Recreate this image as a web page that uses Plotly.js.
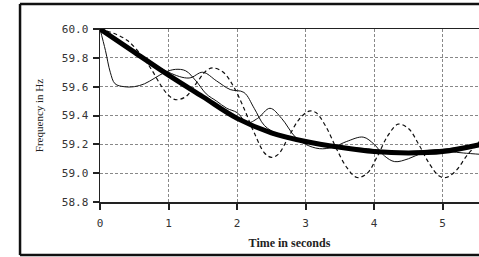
<!DOCTYPE html>
<html><head><meta charset="utf-8">
<script src="https://cdn.plot.ly/plotly-3.0.1.min.js"></script>
<style>html,body{margin:0;padding:0;background:#fff;}#chart{width:479px;height:257px;}</style>
</head><body><div id="chart"></div>
<script>
// Thick (average) frequency curve
const tThick = [0, 0.5, 1.0, 1.5, 2.0, 2.5, 3.0, 3.5, 4.0, 4.5, 5.0, 5.57];
const fThick = [60.0, 59.84, 59.68, 59.53, 59.38, 59.28, 59.22, 59.18, 59.15, 59.14, 59.15, 59.2];

// Thin solid curve A (fast initial drop)
const tA = [0, 0.08, 0.15, 0.22, 0.35, 0.5, 0.65, 0.8, 0.95, 1.1, 1.25, 1.4, 1.55, 1.7, 1.85, 2.0, 2.15, 2.3, 2.48, 2.65, 2.85, 3.0, 3.2, 3.4, 3.6, 3.84, 4.0, 4.15, 4.3, 4.5, 4.7, 4.9, 5.1, 5.3, 5.57];
const fA = [60.0, 59.85, 59.7, 59.62, 59.6, 59.6, 59.62, 59.66, 59.7, 59.72, 59.71, 59.64, 59.55, 59.5, 59.45, 59.42, 59.35, 59.38, 59.45, 59.38, 59.25, 59.2, 59.17, 59.18, 59.22, 59.25, 59.2, 59.12, 59.08, 59.1, 59.14, 59.16, 59.15, 59.14, 59.13];

// Thin solid curve B
const tB = [0, 0.5, 1.0, 1.3, 1.5, 1.7, 1.9, 2.1, 2.25, 2.4, 2.6, 2.8, 3.0, 3.3, 3.6, 3.9, 4.2, 4.5, 4.8, 5.1, 5.4, 5.57];
const fB = [60.0, 59.85, 59.7, 59.66, 59.7, 59.64, 59.58, 59.56, 59.45, 59.33, 59.27, 59.24, 59.22, 59.2, 59.18, 59.17, 59.15, 59.15, 59.16, 59.17, 59.19, 59.2];

// Dashed curve
const tD = [0, 0.2, 0.4, 0.6, 0.75, 0.9, 1.0, 1.1, 1.25, 1.4, 1.55, 1.65, 1.8, 1.95, 2.1, 2.25, 2.4, 2.5, 2.6, 2.75, 2.9, 3.05, 3.15, 3.3, 3.45, 3.6, 3.75, 3.9, 4.05, 4.2, 4.35, 4.5, 4.65, 4.8, 4.95, 5.05, 5.2, 5.35, 5.5, 5.57];
const fD = [60.0, 59.97, 59.92, 59.82, 59.72, 59.6, 59.54, 59.51, 59.53, 59.62, 59.71, 59.73, 59.7, 59.6, 59.45, 59.28, 59.14, 59.11, 59.13, 59.25, 59.37, 59.43, 59.42, 59.32, 59.17, 59.04, 58.97, 59.0, 59.12, 59.26, 59.34, 59.31, 59.2, 59.07, 58.98, 58.97, 59.02, 59.12, 59.2, 59.24];

const xTicks = [0, 1, 2, 3, 4, 5];
const yTicks = [58.8, 59.0, 59.2, 59.4, 59.6, 59.8, 60.0];
const yTickText = ['58.8', '59.0', '59.2', '59.4', '59.6', '59.8', '60.0'];

const ink = '#111';
const traces = [
  {x: tD, y: fD, mode: 'lines', line: {color: ink, width: 1.2, dash: '4px,3px', shape: 'spline', smoothing: 1}},
  {x: tA, y: fA, mode: 'lines', line: {color: ink, width: 1, shape: 'spline', smoothing: 1}},
  {x: tB, y: fB, mode: 'lines', line: {color: ink, width: 1, shape: 'spline', smoothing: 1}},
  {x: tThick, y: fThick, mode: 'lines', line: {color: '#000', width: 5, shape: 'spline', smoothing: 1}}
];

const layout = {
  width: 479, height: 257,
  margin: {l: 100, r: 0, t: 29, b: 55},
  paper_bgcolor: '#fff', plot_bgcolor: '#fff',
  showlegend: false,
  xaxis: {
    range: [0, 5.53], tickvals: xTicks, ticktext: xTicks.map(String),
    showline: true, linecolor: '#222', linewidth: 1.5, mirror: true,
    ticks: 'outside', ticklen: 6, tickwidth: 2, tickcolor: '#222',
    ticklabelstandoff: 4,
    showgrid: true, gridcolor: '#888', gridwidth: 1, griddash: '3px,2px',
    zeroline: false,
    tickfont: {family: 'DejaVu Sans Mono', size: 11, color: '#333'},
    title: {text: 'Time in seconds', font: {family: 'Liberation Serif', size: 12, color: '#222', weight: 'bold'}, standoff: 10}
  },
  yaxis: {
    range: [58.8, 60.0], tickvals: yTicks, ticktext: yTickText,
    showline: true, linecolor: '#222', linewidth: 1.5, mirror: false,
    ticks: 'outside', ticklen: 6, tickwidth: 2, tickcolor: '#222',
    ticklabelstandoff: 2,
    showgrid: true, gridcolor: '#888', gridwidth: 1, griddash: '3px,2px',
    zeroline: false,
    tickfont: {family: 'DejaVu Sans Mono', size: 11, color: '#333'},
    title: {text: 'Frequency in Hz', font: {family: 'Liberation Serif', size: 11, color: '#222'}, standoff: 16}
  },
  shapes: [
    {type: 'line', xref: 'paper', yref: 'paper', x0: -0.211, x1: 1.05, y0: 1.145, y1: 1.145, line: {color: '#111', width: 2.5}},
    {type: 'line', xref: 'paper', yref: 'paper', x0: -0.211, x1: -0.211, y0: 1.145, y1: -0.307, line: {color: '#111', width: 2.5}},
    {type: 'line', xref: 'paper', yref: 'paper', x0: -0.211, x1: 1.05, y0: -0.307, y1: -0.307, line: {color: '#111', width: 2.5}}
  ]
};

Plotly.newPlot('chart', traces, layout, {staticPlot: true, displayModeBar: false});
</script></body></html>
